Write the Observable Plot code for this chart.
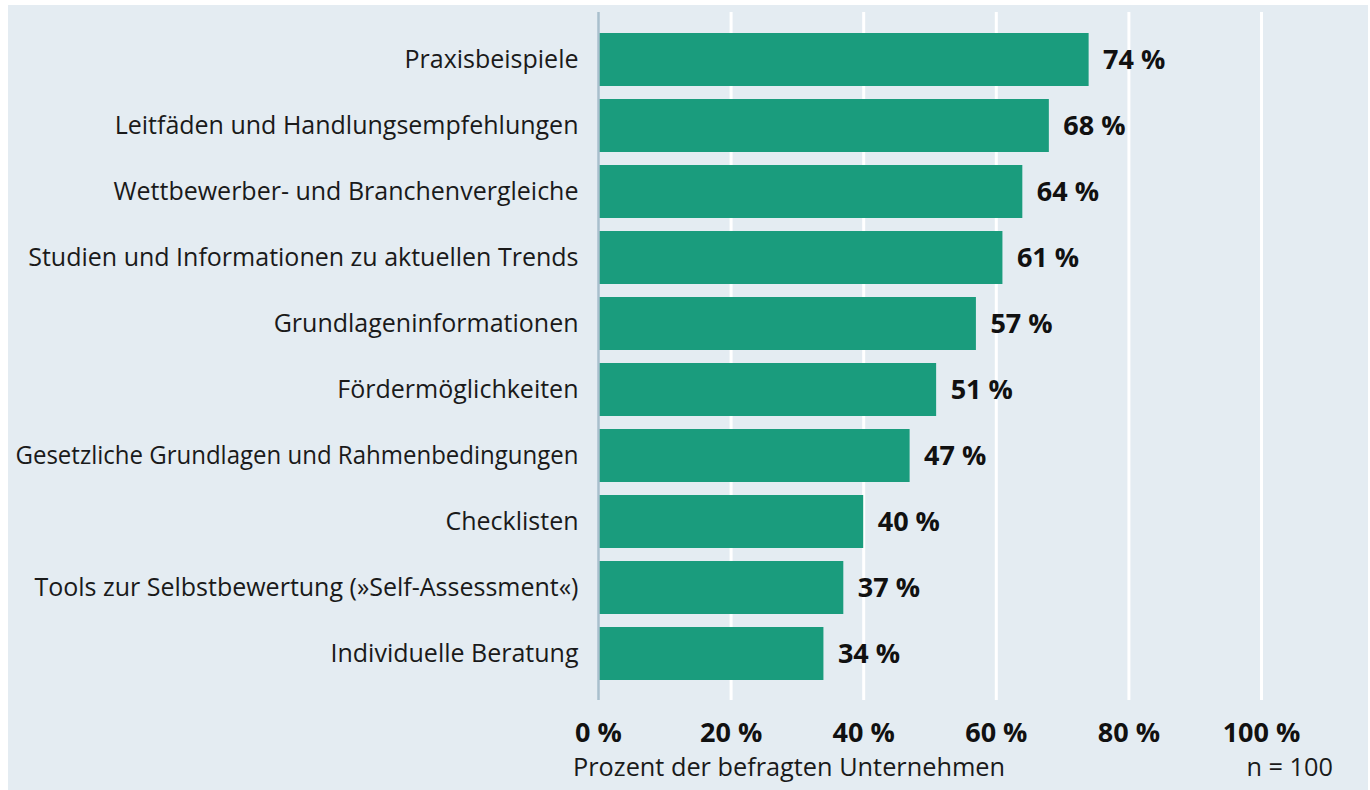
<!DOCTYPE html>
<html>
<head>
<meta charset="utf-8">
<script src="https://cdn.jsdelivr.net/npm/d3@7"></script>
<script src="https://cdn.jsdelivr.net/npm/@observablehq/plot@0.6"></script>
<style>
  html, body { margin: 0; padding: 0; background: #ffffff; }
  #panel { position: absolute; left: 8px; top: 5px; width: 1360px; height: 785px; background: #e4ecf2; font-family: "Open Sans", sans-serif; color: #1a1a1a; }
  #caption { position: absolute; left: 0; top: 744px; width: 1360px; height: 34px; font-size: 25.3px; line-height: 34px; }
  #caption .l { position: absolute; left: 565px; }
  #caption .r { position: absolute; right: 35px; }
</style>
</head>
<body>
<div id="panel">
  <div id="chart"></div>
  <div id="caption"><span class="l">Prozent der befragten Unternehmen</span><span class="r">n = 100</span></div>
</div>
<script>
const categories = [
  "Praxisbeispiele",
  "Leitfäden und Handlungsempfehlungen",
  "Wettbewerber- und Branchenvergleiche",
  "Studien und Informationen zu aktuellen Trends",
  "Grundlageninformationen",
  "Fördermöglichkeiten",
  "Gesetzliche Grundlagen und Rahmenbedingungen",
  "Checklisten",
  "Tools zur Selbstbewertung (»Self-Assessment«)",
  "Individuelle Beratung"
];
const values = [74, 68, 64, 61, 57, 51, 47, 40, 37, 34];
const xTicks = [0, 20, 40, 60, 80, 100];
const tickLabels = ["0 %", "20 %", "40 %", "60 %", "80 %", "100 %"];

const data = categories.map((c, i) => ({category: c, value: values[i]}));
const ticks = xTicks.map((t, i) => ({t, label: tickLabels[i]}));

const W = 1360, H = 745;
const chart = Plot.plot({
  width: W,
  height: H,
  marginLeft: 590,
  marginRight: 107,
  marginTop: 7,
  marginBottom: 50,
  style: {background: "transparent", fontFamily: "'Open Sans', sans-serif", color: "#1a1a1a", overflow: "visible"},
  x: {domain: [0, 100], axis: null},
  y: {domain: categories, axis: null, paddingInner: 0.2, paddingOuter: 0.28},
  marks: [
    Plot.ruleX(ticks.filter(d => d.t > 0), {x: "t", stroke: "#ffffff", strokeWidth: 3}),
    Plot.barX(data, {x: "value", y: "category", fill: "#1a9c7d"}),
    Plot.ruleX([0], {stroke: "#a9bfcd", strokeWidth: 2.5}),
    Plot.text(data, {y: "category", text: "category", frameAnchor: "left", textAnchor: "end", dx: -20, fontSize: 25, fill: "#1a1a1a"}),
    Plot.text(data, {x: "value", y: "category", text: d => d.value + " %", textAnchor: "start", dx: 14, fontSize: 27, fontWeight: "bold", fill: "#111"}),
    Plot.text(ticks, {x: "t", text: "label", frameAnchor: "bottom", dy: 41, fontSize: 27, fontWeight: "bold", fill: "#111"})
  ]
});
document.getElementById("chart").appendChild(chart);
d3.select(chart).selectAll("text")
  .filter(function() { return this.textContent === "Gesetzliche Grundlagen und Rahmenbedingungen"; })
  .attr("textLength", 563).attr("lengthAdjust", "spacingAndGlyphs");
</script>
</body>
</html>
